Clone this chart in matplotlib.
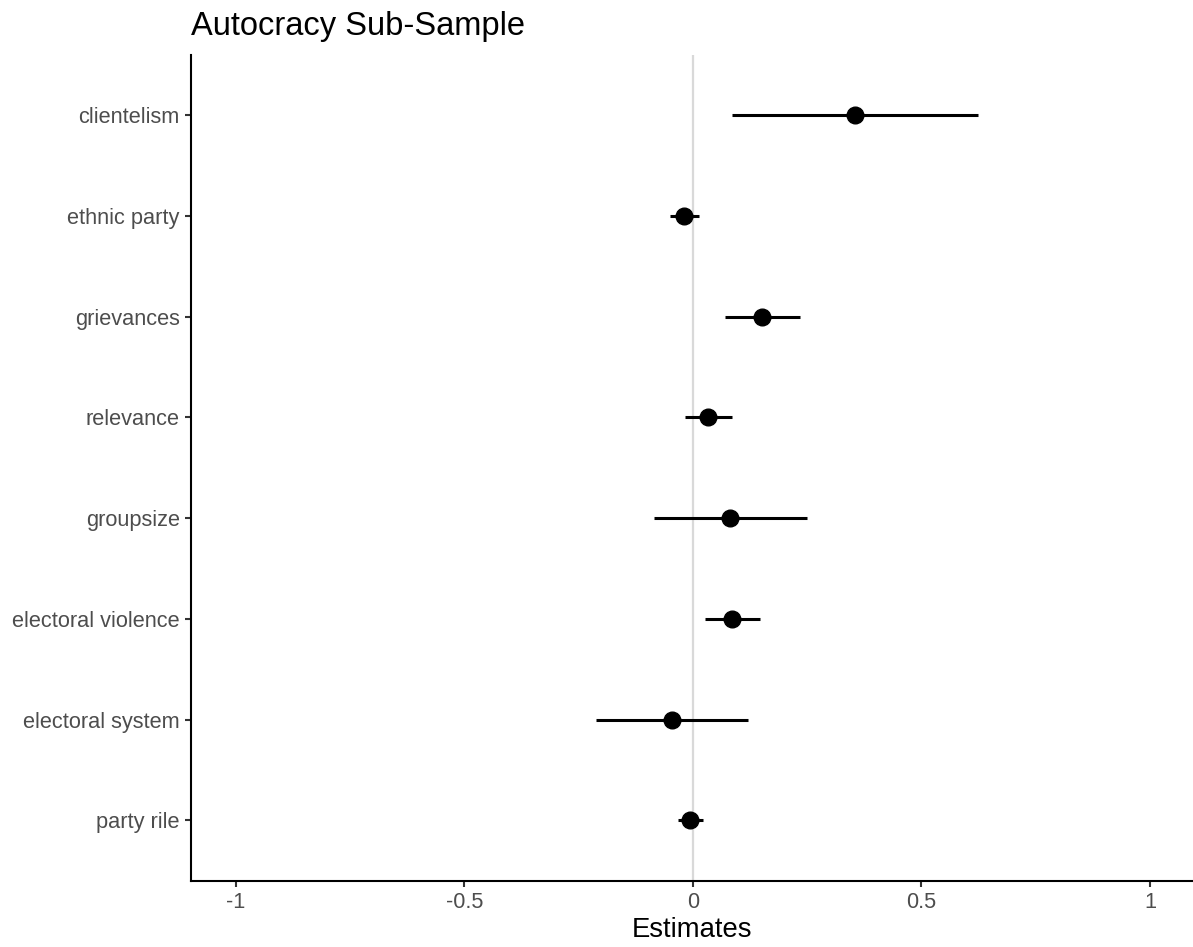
import matplotlib
matplotlib.use("Agg")
import matplotlib.pyplot as plt

# Coefficient estimates with confidence intervals (top to bottom)
terms = ["clientelism", "ethnic party", "grievances", "relevance",
         "groupsize", "electoral violence", "electoral system", "party rile"]
estimates = [0.354, -0.020, 0.151, 0.033, 0.081, 0.085, -0.046, -0.007]
ci_low = [0.085, -0.050, 0.070, -0.018, -0.085, 0.026, -0.212, -0.033]
ci_high = [0.624, 0.013, 0.234, 0.085, 0.249, 0.147, 0.120, 0.022]
xticks = [-1, -0.5, 0, 0.5, 1]
xticklabels = ["-1", "-0.5", "0", "0.5", "1"]

plt.rcParams['font.family'] = ['Liberation Sans', 'DejaVu Sans']

fig = plt.figure(figsize=(11.93, 9.47), dpi=100)
ax = fig.add_axes([0.160, 0.070, 0.840, 0.872])

n = len(terms)
ypos = list(range(n, 0, -1))

# reference line at zero
ax.axvline(0, color="#d9d9d9", linewidth=1.6, zorder=1)

ax.hlines(ypos, ci_low, ci_high, color="black", linewidth=2.2, zorder=2)
ax.plot(estimates, ypos, "o", color="black", markersize=12, zorder=3)

ax.set_xlim(-1.098, 1.094)
ax.set_ylim(0.4, n + 0.6)
ax.set_yticks(ypos)
ax.set_yticklabels(terms)
ax.set_xticks(xticks)
ax.set_xticklabels(xticklabels)

for side in ["top", "right"]:
    ax.spines[side].set_visible(False)
for side in ["left", "bottom"]:
    ax.spines[side].set_linewidth(1.5)
    ax.spines[side].set_color("black")

ax.tick_params(axis="both", direction="out", length=4, width=1.5,
               color="#333333", labelsize=15.7, labelcolor="#4d4d4d", pad=4)

ax.set_xlabel("Estimates", fontsize=19.8, color="black", labelpad=3)
ax.set_title("Autocracy Sub-Sample", fontsize=23.5, loc="left", pad=14)

fig.savefig("out.png", dpi=100)
